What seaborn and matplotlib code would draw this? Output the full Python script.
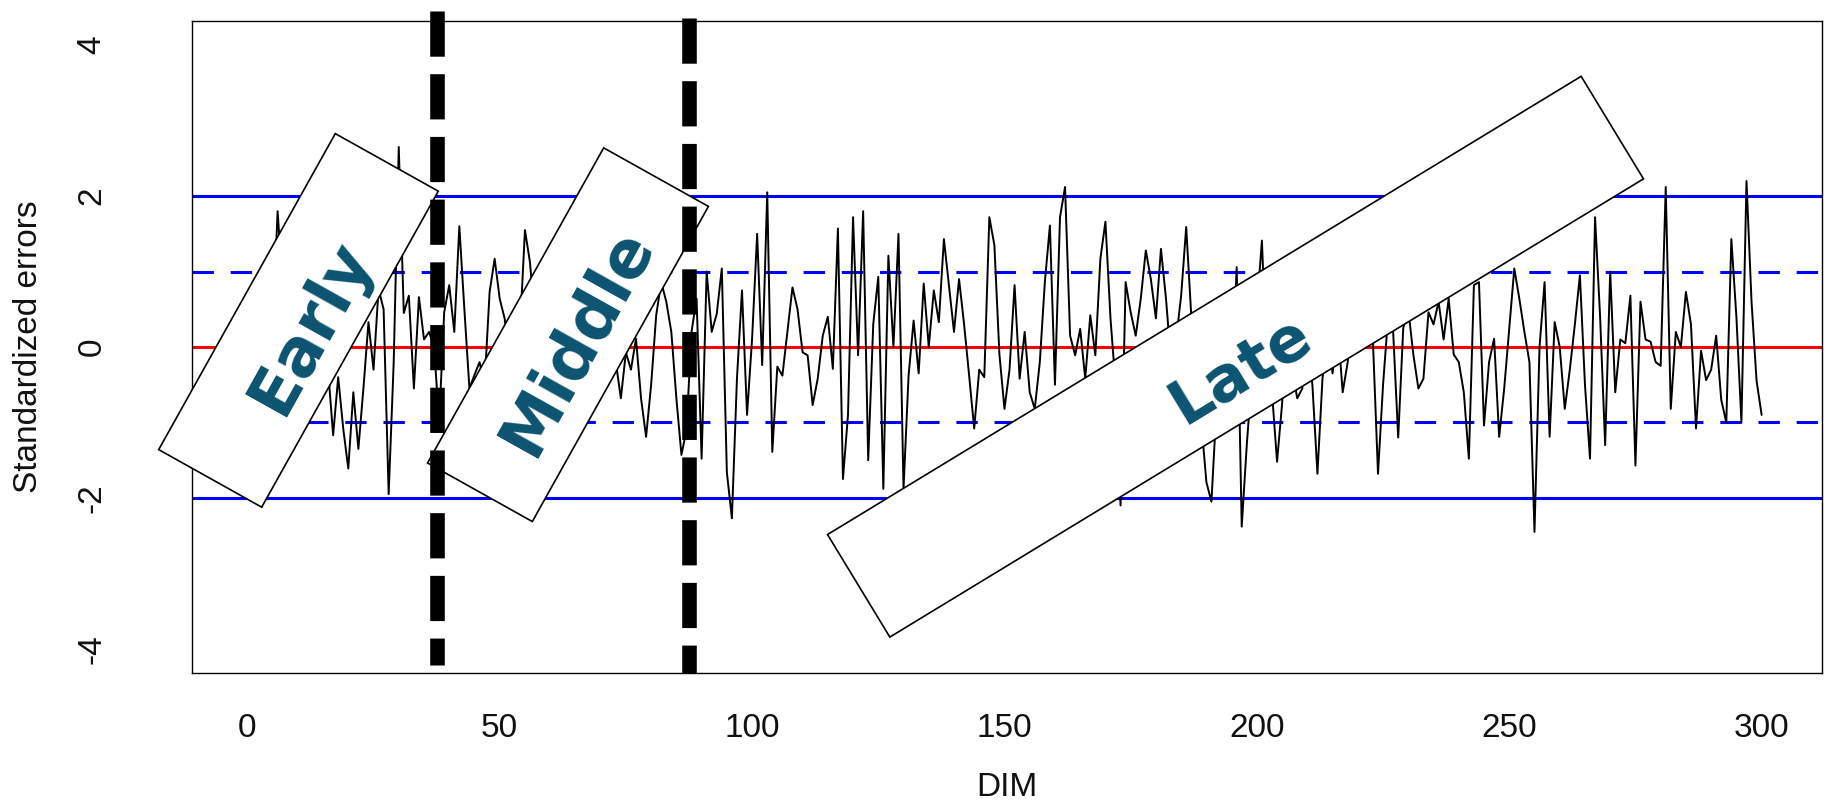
import numpy as np
import pandas as pd
import matplotlib
matplotlib.use("Agg")
import matplotlib.pyplot as plt
import seaborn as sns
from matplotlib.patches import Polygon

# series (DIM 1..300)
dim = list(range(1, 301))
std_errors = [
    -0.2, 0.4, -0.3, 0.7, 0.2, 1.8, 0.8, -0.6, 0.9, -0.3,
    0.6, -0.5, 1.0, 0.3, -0.2, -0.3, -1.17, -0.4, -1.08, -1.61,
    -0.6, -1.35, -0.55, 0.33, -0.3, 0.77, 0.5, -1.95, -0.2, 2.65,
    0.45, 0.68, -0.55, 0.66, 0.1, 0.2, 0.0, -1.0, 0.46, 0.82,
    0.2, 1.6, 0.5, -0.55, -0.37, -0.2, -0.5, 0.73, 1.17, 0.64,
    0.37, -0.3, -0.8, 0.2, 1.55, 1.12, 0.3, -0.6, 0.5, -1.0,
    0.7, -0.3, 0.9, 0.0, -1.2, 0.4, -0.5, 0.8, -0.4, 0.6,
    0.1, -0.33, -0.2, -0.68, -0.07, -0.3, 0.11, -0.68, -1.19, -0.5,
    0.42, 0.86, 0.6, 0.2, -0.68, -1.43, -1.1, 0.2, 0.64, -1.48,
    1.0, 0.2, 0.44, 1.04, -1.66, -2.27, -0.42, 0.75, -0.9, 0.11,
    1.5, -0.24, 2.05, -1.39, -0.26, -0.38, 0.2, 0.79, 0.5, -0.07,
    -0.11, -0.77, -0.42, 0.15, 0.4, -0.29, 1.57, -1.75, -0.9, 1.72,
    -0.11, 1.8, -1.5, 0.3, 0.93, -1.88, 1.21, 0.0, 1.5, -1.88,
    -0.38, 0.35, -0.35, 0.84, 0.0, 0.75, 0.33, 1.43, 0.82, 0.2,
    0.9, 0.3, -0.38, -1.08, -0.3, -0.4, 1.72, 1.35, -0.1, -0.82,
    -0.3, 0.82, -0.42, 0.2, -0.6, -0.82, -0.2, 0.86, 1.61, -0.5,
    1.72, 2.12, 0.15, -0.11, 0.24, -0.42, 0.42, -0.11, 1.17, 1.66,
    0.38, -0.5, -2.1, 0.86, 0.46, 0.15, 0.64, 1.28, 0.9, 0.38,
    1.3, 0.64, -0.2, 0.1, 0.68, 1.59, 0.42, -0.5, -1.0, -1.79,
    -2.05, -0.8, -0.3, 0.1, -0.6, 1.06, -2.38, -1.3, -0.4, 0.5,
    1.41, -0.3, -0.6, -1.52, -0.75, 0.2, -0.3, -0.68, -0.55, 0.1,
    -0.5, -1.68, -0.42, 0.2, -0.35, 0.3, -0.6, -0.2, 0.4, 0.2,
    0.3, 0.5, 0.07, -1.68, -0.5, 0.4, 0.2, -1.2, 0.25, 0.5,
    -0.1, -0.55, -0.42, 0.46, 0.3, 0.6, 0.1, 0.64, -0.1, -0.2,
    -0.6, -1.48, 0.82, 0.86, -1.04, -0.2, 0.11, -1.19, -0.55, 0.24,
    1.04, 0.64, 0.2, -0.2, -2.45, 0.0, 0.86, -1.19, 0.33, 0.0,
    -0.82, -0.3, 0.3, 0.95, -0.5, -1.48, 1.72, 0.4, -1.3, 1.0,
    -0.6, 0.1, 0.05, 0.68, -1.57, 0.6, 0.1, 0.07, -0.2, -0.25,
    2.12, -0.82, 0.2, 0.0, 0.73, 0.3, -1.08, -0.05, -0.44, -0.3,
    0.15, -0.7, -1.0, 1.43, 0.4, -1.0, 2.2, 0.6, -0.45, -0.9,
]

control_limits = [2, -2]
warning_limits = [1, -1]
center_line = 0
period_cuts = [37.5, 87.5]
x_ticks = [0, 50, 100, 150, 200, 250, 300]
y_ticks = [-4, -2, 0, 2, 4]
period_labels = ["Early", "Middle", "Late"]

W, H = 1828, 805

sns.set_style("white")
plt.rcParams['font.family'] = ['Liberation Sans', 'DejaVu Sans']

fig = plt.figure(figsize=(W / 100, H / 100), dpi=100)
ax = fig.add_axes([192 / W, 1 - 673 / H, 1630 / W, 652 / H])

df = pd.DataFrame({'DIM': dim, 'err': std_errors})
sns.lineplot(data=df, x='DIM', y='err', color='black', lw=1.4,
             estimator=None, ax=ax, zorder=3)

for lvl in control_limits:
    ax.axhline(lvl, color='#0000ff', lw=2.2, zorder=2)
for lvl in warning_limits:
    ax.axhline(lvl, color='#0000ff', lw=2.2, dashes=(7, 5.5), zorder=2)
ax.axhline(center_line, color='#ff0000', lw=2.2, zorder=2)

ax.set_xlim(-10.96, 311.96)
ax.set_ylim(-4.32, 4.32)
ax.set_xticks(x_ticks)
ax.set_yticks(y_ticks)
ax.set_xticklabels([str(t) for t in x_ticks])
ax.set_yticklabels([str(t) for t in y_ticks], rotation=90, va='center')

ax.tick_params(axis='both', direction='out', length=15, width=1.0,
               color='black', labelsize=24, labelcolor='#111111')
ax.tick_params(axis='x', pad=14)
ax.tick_params(axis='y', pad=46)
for s in ax.spines.values():
    s.set_visible(True)
    s.set_color('black')
    s.set_linewidth(1.0)

ax.set_xlabel('DIM', fontsize=24, color='#111111')
ax.set_ylabel('Standardized errors', fontsize=24, color='#111111')
ax.xaxis.set_label_coords(0.5, -0.152)
ax.yaxis.set_label_coords(-0.091, 0.5)


# overlay boxes: centre (px, y down), long side, short side, angle, text centre, text size
def px(x, y):
    return x / W, 1 - y / H


box_specs = [
    ((298.5, 320.4), 362, 118, 60.8, (311.0, 327.0), 47),
    ((568.0, 334.7), 361, 120, 60.8, (578.0, 342.0), 47),
    ((1235.5, 356.7), 882, 120, 31.3, (1241.0, 371.0), 45),
]
for label, (c, L, S, ang, tc, fs) in zip(period_labels, box_specs):
    t = np.deg2rad(ang)
    u = np.array([np.cos(t), np.sin(t)])
    v = np.array([-np.sin(t), np.cos(t)])
    cc = np.array([c[0], H - c[1]])
    pts = [cc + a * L / 2 * u + b * S / 2 * v
           for a, b in [(-1, -1), (1, -1), (1, 1), (-1, 1)]]
    pts = [(p[0] / W, p[1] / H) for p in pts]
    ax.add_patch(Polygon(pts, closed=True, facecolor='white', edgecolor='black',
                         lw=1.2, transform=fig.transFigure, clip_on=False, zorder=4))
    tx, ty = px(*tc)
    ax.text(tx, ty, label, transform=fig.transFigure, rotation=ang,
            rotation_mode='anchor', ha='center', va='center', fontsize=fs,
            fontweight='bold', family='DejaVu Sans', color='#0b5370', zorder=5)

# thick dashed period boundaries (run a little past the frame)
line_tops = [4.45, 4.36]
line_bottoms = [-4.22, -4.32]
for xc, top, bot in zip(period_cuts, line_tops, line_bottoms):
    ax.plot([xc, xc], [top, bot], color='black', lw=10.5, dashes=(3.1, 1.2),
            dash_capstyle='butt', clip_on=False, zorder=6)

fig.savefig('out.png', dpi=100, facecolor='white')
